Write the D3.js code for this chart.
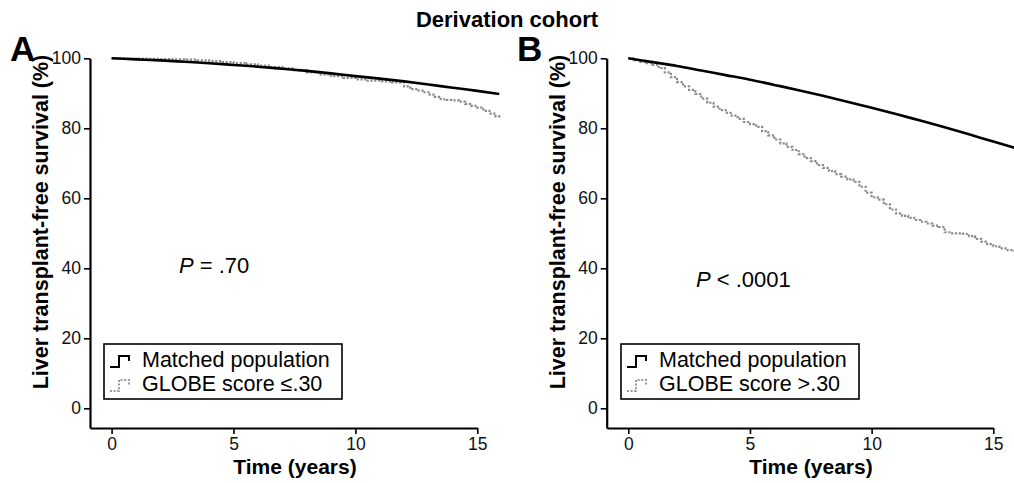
<!DOCTYPE html>
<html>
<head>
<meta charset="utf-8">
<script src="https://cdn.jsdelivr.net/npm/d3@7"></script>
<style>
  html, body { margin: 0; padding: 0; background: #fff; }
  svg { display: block; font-family: "Liberation Sans", Arial, Helvetica, sans-serif; }
</style>
</head>
<body>
<svg id="chart" width="1014" height="483"></svg>
<script>
// ---------------- DATA ----------------
const title = "Derivation cohort";
const panelLetters = ["A", "B"];
const xTicks = [0, 5, 10, 15];
const yTicks = [0, 20, 40, 60, 80, 100];
const yLabel = "Liver transplant-free survival (%)";
const xLabel = "Time (years)";
const seriesNames = ["Matched population", "GLOBE score \u2264.30", "GLOBE score >.30"];
const pTexts = ["= .70", "< .0001"];

// Matched population (smooth, large group)
const matchedTimes = [0, 1, 2, 3, 4, 5, 6, 7, 8, 9, 10, 11, 12, 13, 14, 15, 15.9];
const matchedA = [100, 99.7, 99.4, 99.0, 98.6, 98.1, 97.6, 97.0, 96.4, 95.7, 94.9, 94.2, 93.4, 92.5, 91.6, 90.7, 89.8];
const matchedB = [100, 98.9, 97.8, 96.5, 95.2, 93.9, 92.4, 90.9, 89.3, 87.6, 85.9, 84.1, 82.2, 80.3, 78.3, 76.2, 74.4];

// GLOBE score <= .30 (panel A), Kaplan-Meier steps
const globeATimes = [0, 0.5, 1, 1.5, 2, 2.5, 3, 3.5, 4, 4.5, 5, 5.5, 6, 6.5, 7, 7.5, 8, 8.5, 9, 9.5, 10, 10.5, 11, 11.5, 12, 12.25, 12.5, 12.75, 13, 13.25, 13.5, 13.75, 14, 14.25, 14.5, 14.75, 15, 15.25, 15.5, 15.75, 15.9];
const globeA = [100, 99.95, 99.9, 99.85, 99.8, 99.7, 99.6, 99.4, 99.2, 98.9, 98.6, 98.3, 97.9, 97.5, 97.1, 96.6, 96.0, 95.4, 94.9, 94.4, 94.0, 93.6, 93.4, 93.1, 92.0, 91.2, 90.8, 90.3, 89.6, 89.0, 88.3, 88.1, 88.0, 87.6, 87.0, 86.4, 85.9, 85.0, 84.2, 83.4, 83.0];

// GLOBE score > .30 (panel B), Kaplan-Meier steps
const globeBTimes = [0, 0.25, 0.5, 0.75, 1, 1.25, 1.5, 1.75, 2, 2.25, 2.5, 2.75, 3, 3.25, 3.5, 3.75, 4, 4.25, 4.5, 4.75, 5, 5.25, 5.5, 5.75, 6, 6.25, 6.5, 6.75, 7, 7.25, 7.5, 7.75, 8, 8.25, 8.5, 8.75, 9, 9.25, 9.5, 9.75, 10, 10.25, 10.5, 10.75, 11, 11.25, 11.5, 11.75, 12, 12.25, 12.5, 12.75, 13, 13.25, 13.5, 13.75, 14, 14.25, 14.5, 14.75, 15, 15.25, 15.5, 15.85];
const globeB = [100, 99.5, 99.0, 98.6, 98.1, 97.2, 96.0, 94.6, 93.2, 92.0, 91.0, 89.8, 88.5, 87.3, 86.2, 85.2, 84.4, 83.6, 82.7, 81.8, 81.2, 80.4, 79.2, 78.0, 76.8, 75.7, 74.7, 73.8, 72.6, 71.5, 70.6, 69.5, 68.7, 67.8, 66.9, 66.2, 65.4, 64.7, 63.3, 61.6, 60.3, 59.6, 58.3, 56.8, 55.7, 55.0, 54.4, 53.8, 53.3, 52.8, 52.2, 51.8, 50.3, 50.0, 50.0, 49.8, 49.2, 48.4, 47.6, 46.9, 46.3, 45.7, 45.2, 44.7];

// ---------------- LAYOUT ----------------
const svg = d3.select("#chart");
const FONT = '"Liberation Sans", Arial, Helvetica, sans-serif';

svg.append("text").attr("x", 507).attr("y", 27).attr("text-anchor", "middle")
  .attr("font-size", 22).attr("font-weight", "bold").text(title);

const panels = [
  { letter: panelLetters[0], axisX: 90, x15: 477.3, letterX: 10, matched: matchedA, gTimes: globeATimes, g: globeA,
    gName: seriesNames[1], p: pTexts[0], pX: 179, pY: 273, legX: 104, labX: 48, xlabX: 295 },
  { letter: panelLetters[1], axisX: 606.7, x15: 993.3, letterX: 517, matched: matchedB, gTimes: globeBTimes, g: globeB,
    gName: seriesNames[2], p: pTexts[1], pX: 696, pY: 287, legX: 621, labX: 565, xlabX: 811 }
];

const yTop = 58.3, yZero = 408.3, axisY = 428;

panels.forEach(P => {
  const g = svg.append("g");
  // time scale (t = 0 sits a little right of the y axis)
  const x = d3.scaleLinear().domain([0, 15]).range([P.axisX + 21.6, P.x15]);
  // survival scale (axis extends slightly below 0)
  const y0 = d3.scaleLinear().domain([0, 100]).range([yZero, yTop]);
  const y = d3.scaleLinear().domain([y0.invert(axisY), 100]).range([axisY, yTop]);

  // Y axis
  const yAxis = d3.axisLeft(y).tickValues(yTicks).tickSize(6).tickPadding(3).tickSizeOuter(0);
  const ya = g.append("g").attr("transform", `translate(${P.axisX},0)`).call(yAxis);
  ya.select(".domain").attr("stroke", "#000").attr("stroke-width", 2.2);
  ya.selectAll(".tick line").attr("stroke", "#000").attr("stroke-width", 1.6);
  ya.selectAll(".tick text").attr("font-size", 17.5).attr("font-family", FONT).attr("fill", "#111");

  // X axis
  const xAxisScale = d3.scaleLinear().domain([x.invert(P.axisX), 15]).range([P.axisX, P.x15]);
  const xAxis = d3.axisBottom(xAxisScale).tickValues(xTicks).tickSize(6).tickPadding(4).tickSizeOuter(0).tickFormat(d3.format("d"));
  const xa = g.append("g").attr("transform", `translate(0,${axisY})`).call(xAxis);
  xa.select(".domain").attr("stroke", "#000").attr("stroke-width", 2.2);
  xa.selectAll(".tick line").attr("stroke", "#000").attr("stroke-width", 1.6);
  xa.selectAll(".tick text").attr("font-size", 17.5).attr("font-family", FONT).attr("fill", "#111");

  // curves
  const matchedLine = d3.line().x((d, i) => x(matchedTimes[i])).y(d => y(d)).curve(d3.curveMonotoneX);
  const stepLine = d3.line().x((d, i) => x(P.gTimes[i])).y(d => y(d)).curve(d3.curveStepAfter);

  g.append("path").datum(P.g).attr("d", stepLine).attr("fill", "none")
    .attr("stroke", "#8a8a8a").attr("stroke-width", 2.2).attr("stroke-dasharray", "2.2,1.6");
  g.append("path").datum(P.matched).attr("d", matchedLine).attr("fill", "none")
    .attr("stroke", "#000").attr("stroke-width", 2.6);

  // panel letter
  g.append("text").attr("x", P.letterX).attr("y", 61).attr("font-size", 35).attr("font-weight", "bold").text(P.letter);

  // axis labels
  g.append("text").attr("transform", `translate(${P.labX},222) rotate(-90)`).attr("text-anchor", "middle")
    .attr("font-size", 21.5).attr("font-weight", "bold").text(yLabel);
  g.append("text").attr("x", P.xlabX).attr("y", 474).attr("text-anchor", "middle")
    .attr("font-size", 21).attr("font-weight", "bold").text(xLabel);

  // P value
  const pt = g.append("text").attr("x", P.pX).attr("y", P.pY).attr("font-size", 22);
  pt.append("tspan").attr("font-style", "italic").text("P");
  pt.append("tspan").text(" " + P.p);

  // legend
  const lg = g.append("g").attr("transform", `translate(${P.legX},344)`);
  lg.append("rect").attr("width", 238).attr("height", 55).attr("fill", "#fff").attr("stroke", "#000").attr("stroke-width", 1.6);
  const sym = (yb) => `M6,${yb} h9 v-11 h10 v5`;
  lg.append("path").attr("d", sym(23)).attr("fill", "none").attr("stroke", "#000").attr("stroke-width", 2);
  lg.append("path").attr("d", sym(47)).attr("fill", "none").attr("stroke", "#999").attr("stroke-width", 2).attr("stroke-dasharray", "2,1.6");
  lg.append("text").attr("x", 38).attr("y", 23).attr("font-size", 21.5).text(seriesNames[0]);
  lg.append("text").attr("x", 38).attr("y", 47).attr("font-size", 21.5).text(P.gName);
});
</script>
</body>
</html>
